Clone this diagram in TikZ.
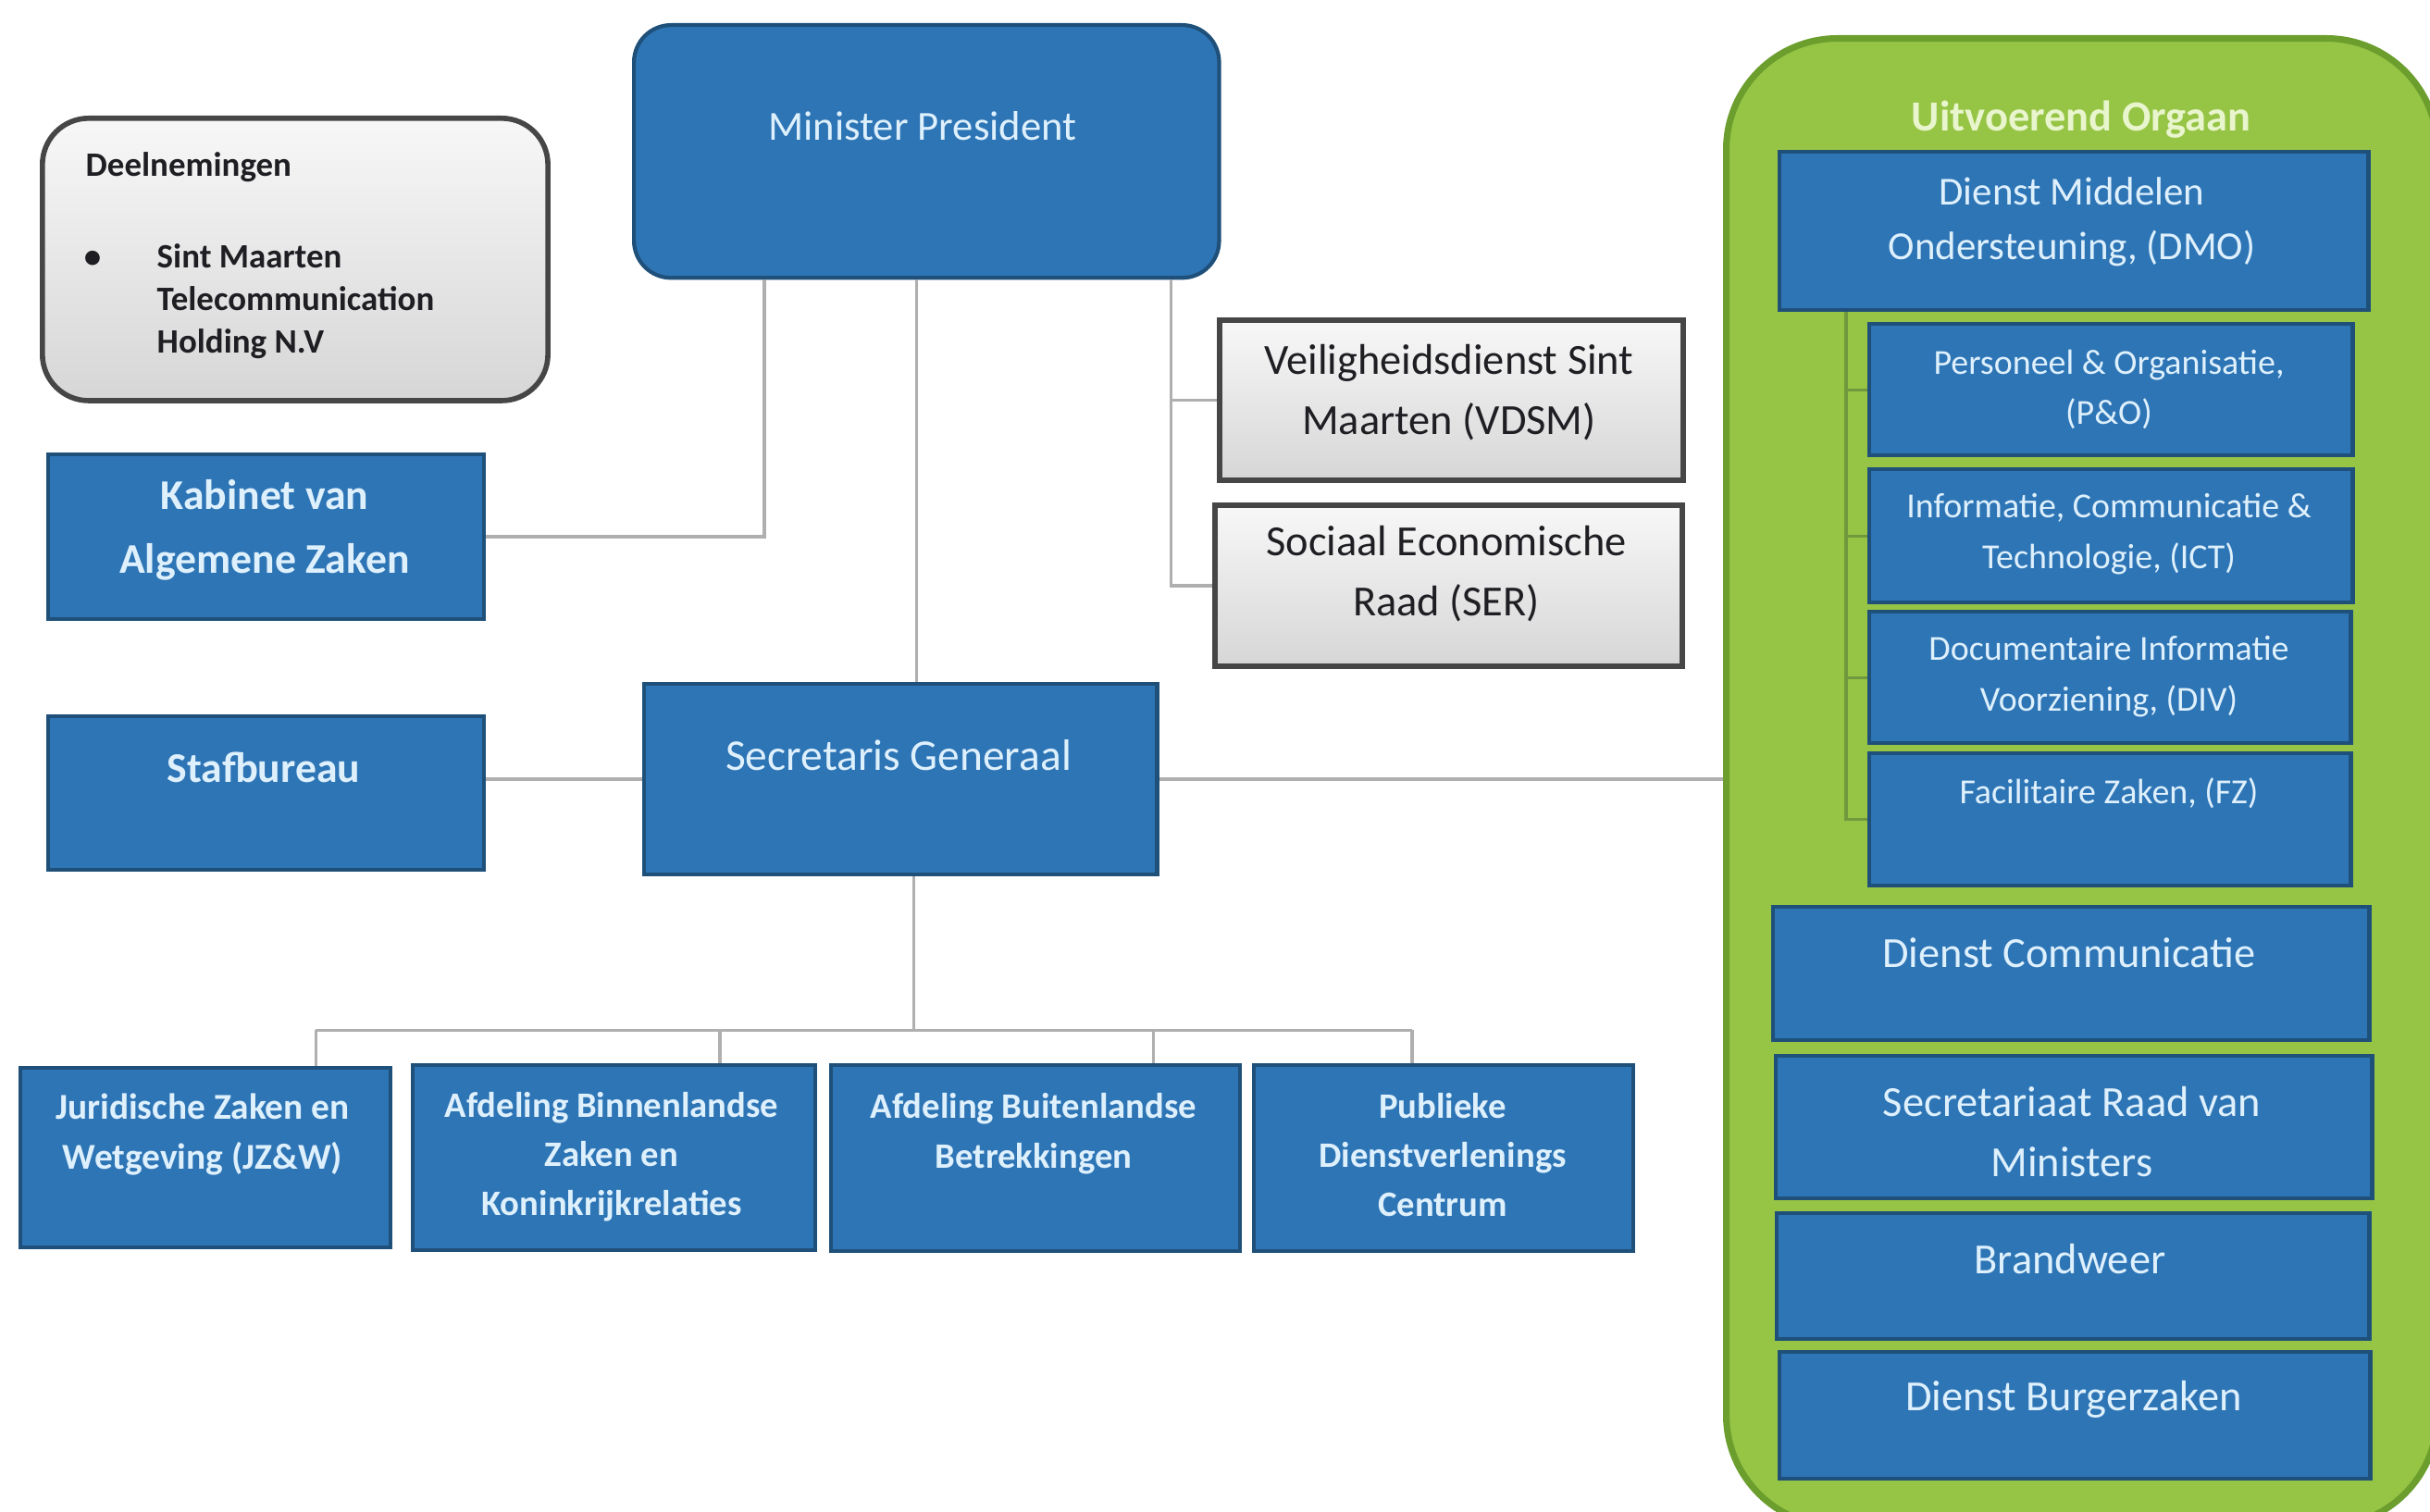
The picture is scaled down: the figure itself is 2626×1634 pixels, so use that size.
\documentclass[tikz,border=0pt]{standalone}
\usepackage{fontspec}
\setmainfont{Carlito}
\usetikzlibrary{positioning}
\newcommand{\orgfont}[2]{\fontsize{#1}{#2}\selectfont}

\definecolor{orgblue}{RGB}{46,117,182}
\definecolor{orgblueline}{RGB}{31,80,122}
\definecolor{boxtext}{RGB}{222,240,252}
\definecolor{orggreen}{RGB}{150,196,68}
\definecolor{orggreenline}{RGB}{108,158,46}
\definecolor{titlegreen}{RGB}{232,245,205}
\definecolor{linkgray}{RGB}{175,175,175}
\definecolor{greyline}{RGB}{70,70,70}
\definecolor{darktext}{RGB}{30,30,35}

\tikzset{
  bluebox/.style={draw=orgblueline, fill=orgblue, line width=1.2pt, anchor=north west, inner sep=0pt},
  greybox/.style={draw=greyline, top color=gray!6, bottom color=gray!32, line width=1.6pt, anchor=north west, inner sep=0pt},
  lbl/.style={text=boxtext, align=center, inner sep=0pt},
  darklbl/.style={text=darktext, align=center, inner sep=0pt},
  link/.style={draw=linkgray, line width=1pt},
  sublink/.style={draw=orggreenline!80!gray, line width=0.9pt},
}

\begin{document}
\begin{tikzpicture}[x=0.01cm, y=-0.01cm]
  \path[use as bounding box, fill=white] (0,0) rectangle (2626,1634);

  % uitvoerend orgaan
  \node[draw=orggreenline, fill=orggreen, line width=2pt, rounded corners=1.2cm, minimum width=7.68cm, minimum height=16.07cm, anchor=north west, inner sep=0pt] (uo) at (1862,38) {};
  \node[lbl, text=titlegreen, font=\bfseries\orgfont{13.2}{16}] (uo-t) at (2249,129) {Uitvoerend Orgaan};

  % top
  \node[bluebox, rounded corners=0.4cm, minimum width=6.32cm, minimum height=2.73cm] (mp) at (683,25) {};
  \node[lbl, font=\orgfont{12.7}{16}] (mp-t) at (997,136) {Minister President};

  \node[greybox, rounded corners=0.5cm, minimum width=5.46cm, minimum height=3.05cm] (deel) at (43,125) {};
  \node[darklbl, anchor=west, font=\bfseries\orgfont{10.5}{13}] (deel-t) at (92,181) {Deelnemingen};
  \node[darklbl, font=\bfseries\orgfont{10.5}{13}] (deel-b) at (100,280) {\textbullet};
  \node[darklbl, align=left, anchor=west, font=\bfseries\orgfont{10.5}{13.1}] (deel-i) at (169,326) {Sint Maarten\\Telecommunication\\Holding N.V};

  \node[bluebox, minimum width=4.71cm, minimum height=1.78cm] (kab) at (50,489) {};
  \node[lbl, font=\bfseries\orgfont{13}{19.6}] (kab-t) at (286,573) {Kabinet van\\Algemene Zaken};

  \node[bluebox, minimum width=4.71cm, minimum height=1.66cm] (staf) at (50,772) {};
  \node[lbl, font=\bfseries\orgfont{13}{16}] (staf-t) at (285,829) {Stafbureau};

  \node[bluebox, minimum width=5.54cm, minimum height=2.06cm] (sg) at (694,737) {};
  \node[lbl, font=\orgfont{13.5}{16}] (sg-t) at (971,816) {Secretaris Generaal};

  \node[greybox, minimum width=5.01cm, minimum height=1.73cm] (vdsm) at (1315,343) {};
  \node[darklbl, font=\orgfont{13.2}{18.5}] (vdsm-t) at (1566,424) {Veiligheidsdienst Sint\\Maarten (VDSM)};

  \node[greybox, minimum width=5.05cm, minimum height=1.74cm] (ser) at (1310,543) {};
  \node[darklbl, font=\orgfont{13.2}{18.5}] (ser-t) at (1563,620) {Sociaal Economische\\Raad (SER)};

  % bottom row
  \node[bluebox, minimum width=4.00cm, minimum height=1.94cm] (jzw) at (20,1152) {};
  \node[lbl, font=\bfseries\orgfont{11.2}{15.4}] (jzw-t) at (219,1226) {Juridische Zaken en\\Wetgeving (JZ\&W)};

  \node[bluebox, minimum width=4.35cm, minimum height=2.00cm] (abz) at (444,1149) {};
  \node[lbl, font=\bfseries\orgfont{11}{15}] (abz-t) at (661,1250) {Afdeling Binnenlandse\\Zaken en\\Koninkrijkrelaties};

  \node[bluebox, minimum width=4.42cm, minimum height=2.01cm] (abb) at (896,1149) {};
  \node[lbl, font=\bfseries\orgfont{11}{15.4}] (abb-t) at (1117,1225) {Afdeling Buitenlandse\\Betrekkingen};

  \node[bluebox, minimum width=4.10cm, minimum height=2.01cm] (pdc) at (1353,1149) {};
  \node[lbl, font=\bfseries\orgfont{11}{15}] (pdc-t) at (1559,1248) {Publieke\\Dienstverlenings\\Centrum};

  % green column
  \node[bluebox, minimum width=6.36cm, minimum height=1.71cm] (dmo) at (1921,162) {};
  \node[lbl, font=\orgfont{12.2}{16.8}] (dmo-t) at (2239,240) {Dienst Middelen\\Ondersteuning, (DMO)};

  \node[bluebox, minimum width=5.22cm, minimum height=1.42cm] (po) at (2018,348) {};
  \node[lbl, font=\orgfont{10.8}{15.6}] (po-t) at (2279,421) {Personeel \& Organisatie,\\(P\&O)};

  \node[bluebox, minimum width=5.22cm, minimum height=1.44cm] (ict) at (2018,505) {};
  \node[lbl, font=\orgfont{10.8}{15.6}] (ict-t) at (2279,577) {Informatie, Communicatie \&\\Technologie, (ICT)};

  \node[bluebox, minimum width=5.20cm, minimum height=1.42cm] (div) at (2018,659) {};
  \node[lbl, font=\orgfont{10.8}{15.6}] (div-t) at (2279,731) {Documentaire Informatie\\Voorziening, (DIV)};

  \node[bluebox, minimum width=5.20cm, minimum height=1.43cm] (fz) at (2018,812) {};
  \node[lbl, font=\orgfont{10.8}{15.6}] (fz-t) at (2279,857) {Facilitaire Zaken, (FZ)};

  \node[bluebox, minimum width=6.44cm, minimum height=1.44cm] (dc) at (1914,978) {};
  \node[lbl, font=\orgfont{13.2}{16}] (dc-t) at (2236,1030) {Dienst Communicatie};

  \node[bluebox, minimum width=6.44cm, minimum height=1.54cm] (srm) at (1917,1139) {};
  \node[lbl, font=\orgfont{13.2}{18.5}] (srm-t) at (2239,1223) {Secretariaat Raad van\\Ministers};

  \node[bluebox, minimum width=6.40cm, minimum height=1.36cm] (bw) at (1918,1309) {};
  \node[lbl, font=\orgfont{13.2}{16}] (bw-t) at (2237,1361) {Brandweer};

  \node[bluebox, minimum width=6.38cm, minimum height=1.37cm] (dbz) at (1921,1459) {};
  \node[lbl, font=\orgfont{13.2}{16}] (dbz-t) at (2241,1512) {Dienst Burgerzaken};

  % lines
  \coordinate (mpl) at ([xshift=1.43cm]mp.south west);
  \coordinate (mpm) at ([xshift=-0.11cm]mp.south);
  \coordinate (mpr) at ([xshift=-0.54cm]mp.south east);
  \draw[link] (mpl) |- (kab.east);
  \draw[link] (mpm) -- (mpm |- sg.north);
  \draw[link] (mpr) |- (ser.west);
  \draw[link] (vdsm.west -| mpr) -- (vdsm.west);
  \draw[link] (staf.east |- sg.west) -- (sg.west);
  \draw[link] (sg.east) -- (sg.east -| uo.west);

  \coordinate (sgm) at ([xshift=0.14cm]sg.south);
  \coordinate (bus) at ([yshift=-1.66cm]sgm);
  \draw[link] (sgm) -- (bus);
  \foreach \b/\dx in {jzw/1.19, abz/1.14, abb/1.27, pdc/-0.34} {
    \coordinate (\b-drop) at ([xshift=\dx cm]\b.north);
    \draw[link] (\b-drop) -- (\b-drop |- bus);
  }
  \draw[link] (jzw-drop |- bus) -- (pdc-drop |- bus);

  \coordinate (dmo-line) at ([xshift=0.74cm]dmo.south west);
  \draw[sublink] (dmo-line) |- (fz.west);
  \foreach \b in {po,ict,div}
    \draw[sublink] (\b.west -| dmo-line) -- (\b.west);
\end{tikzpicture}
\end{document}
